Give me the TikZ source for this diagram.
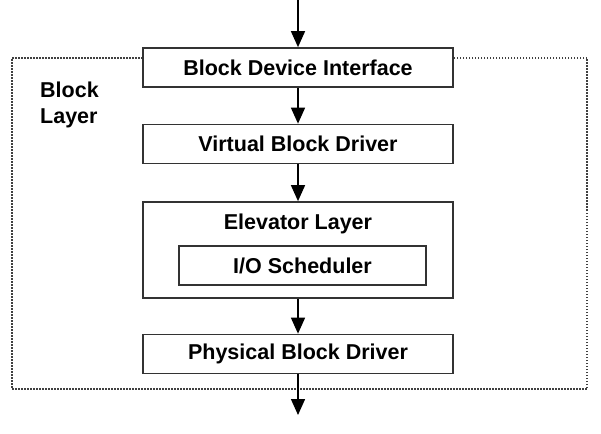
\documentclass[tikz,border=0pt]{standalone}
\usepackage{fontspec}
\setmainfont{Liberation Sans}
\usetikzlibrary{arrows.meta}
\begin{document}
\begin{tikzpicture}[
    x=1pt, y=-1pt,
    block/.style={draw=black!80, line width=1.7pt, fill=white, minimum width=310pt, minimum height=39pt, font=\fontsize{21.5}{25}\bfseries, inner sep=0pt},
    layer/.style={draw=black!75, line width=1.2pt, dash pattern=on 1.5pt off 1.5pt, minimum width=575pt, minimum height=331pt, inner sep=0pt},
    arrow/.style={-{Triangle[width=14pt, length=16pt]}, line width=1.5pt}
]
    \useasboundingbox (0,0) rectangle (601,433);

    % Layer frame
    \node[layer] (blayer) at (299.5,223.5) {};
    \node[font=\fontsize{21.5}{25}\bfseries, align=left, anchor=base west, inner sep=0pt] (blabel) at (40,123) {Block\\Layer};

    % Blocks
    \node[block] (bdi) at (298,67.5) {Block Device Interface};
    \node[block] (vbd) at (298,144) {Virtual Block Driver};
    \node[block, minimum height=96pt] (elev) at (298,250) {};
    \node[font=\fontsize{21.5}{25}\bfseries] (elevlbl) at (298,224) {Elevator Layer};
    \node[block, minimum width=247pt, minimum height=39pt] (sched) at (302.5,265.5) {I/O Scheduler};
    \node[block] (pbd) at (298,354) {Physical Block Driver};

    % Ends
    \coordinate (top) at (298,0);
    \coordinate (bot) at (298,415);

    % Arrows
    \draw[arrow] (top) -- (bdi);
    \draw[arrow] (bdi) -- (vbd);
    \draw[arrow] (vbd) -- (elev);
    \draw[arrow] (elev) -- (pbd);
    \draw[arrow] (pbd) -- (bot);
\end{tikzpicture}
\end{document}
